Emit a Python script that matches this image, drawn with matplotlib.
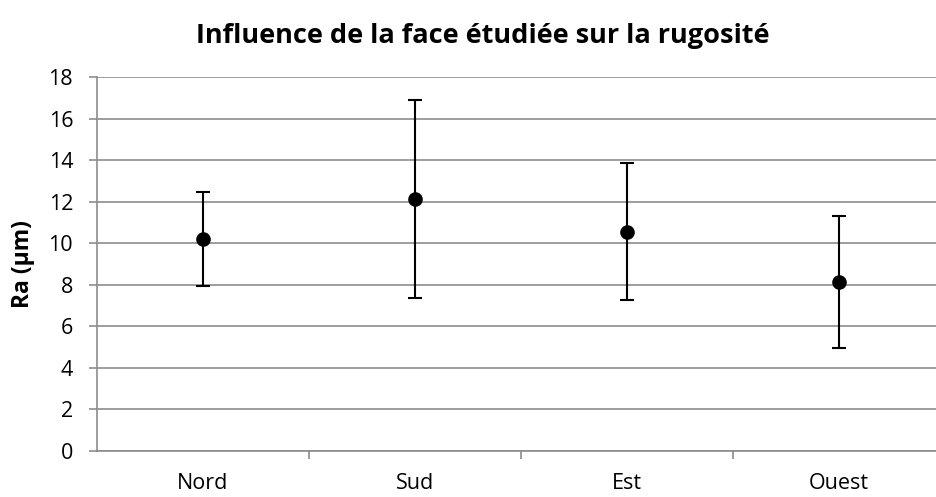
import numpy as np
import matplotlib
matplotlib.use("Agg")
from matplotlib import pyplot as plt
from matplotlib.ticker import FixedLocator

faces = ["Nord", "Sud", "Est", "Ouest"]
ra_mean = [10.21, 12.14, 10.56, 8.15]
ra_err = [2.28, 4.77, 3.31, 3.18]
y_ticks = list(range(0, 19, 2))

plt.rcParams['font.family'] = ['Open Sans', 'DejaVu Sans']

fig = plt.figure(figsize=(9.36, 4.97), dpi=100)
# plot area runs slightly past the right border, like the original export
ax = fig.add_axes([0.1033, 0.0932, 0.9063, 0.7513])

grey = "#8c8c8c"
x = np.arange(len(faces))
ax.errorbar(x, ra_mean, yerr=ra_err, fmt="o", color="black",
            markersize=9.5, elinewidth=1.5, capsize=5, capthick=1.5, zorder=3)

ax.set_xlim(-0.5, len(faces) - 0.5)
ax.set_ylim(0, 18)
ax.set_yticks(y_ticks)
ax.set_xticks(x)
ax.set_xticklabels(faces)
ax.xaxis.set_minor_locator(FixedLocator(np.arange(0.5, len(faces) - 0.5, 1)))

ax.grid(axis="y", color=grey, linewidth=1.2, zorder=0)
for side in ["top", "right"]:
    ax.spines[side].set_visible(False)
for side in ["left", "bottom"]:
    ax.spines[side].set_color(grey)
    ax.spines[side].set_linewidth(1.2)

ax.tick_params(axis="y", length=6, width=1.2, color=grey, labelsize=15.5, pad=11)
ax.tick_params(axis="x", which="major", length=0, labelsize=15.5, pad=16)
ax.tick_params(axis="x", which="minor", length=6, width=1.2, color=grey)

ax.set_ylabel("Ra (µm)", fontsize=16.5, fontweight="bold", labelpad=10)
fig.text(0.516, 0.913, "Influence de la face étudiée sur la rugosité",
         ha="center", va="baseline", fontsize=19.5, fontweight="bold")

fig.savefig("out.png", dpi=100)
